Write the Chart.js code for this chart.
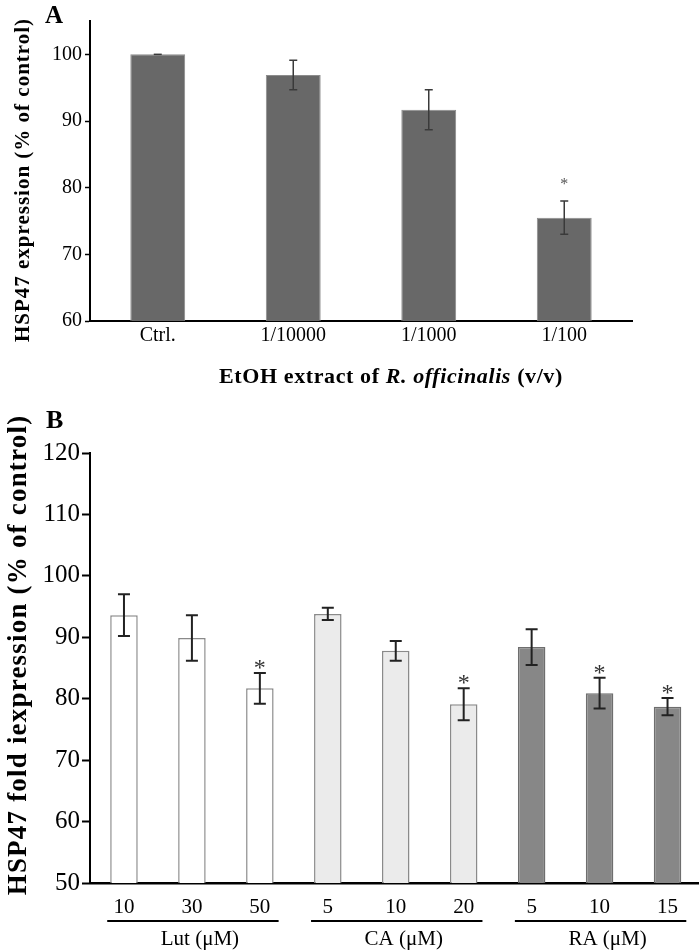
<!DOCTYPE html>
<html>
<head>
<meta charset="utf-8">
<script src="https://cdn.jsdelivr.net/npm/chart.js@4.4.1/dist/chart.umd.min.js"></script>
<style>
html,body{margin:0;padding:0;background:#fff;overflow:hidden;}
#wrap{position:relative;width:699px;height:952px;overflow:hidden;background:#fff;}
#cA{position:absolute;left:0;top:0;}
#cB{position:absolute;left:0;top:390px;}
</style>
</head>
<body>
<div id="wrap">
<canvas id="cA" width="699" height="390"></canvas>
<canvas id="cB" width="702" height="562"></canvas>
</div>
<script>
// ---------- Panel A data ----------
const categoriesA = ['Ctrl.', '1/10000', '1/1000', '1/100'];
const valuesA = [100, 96.9, 91.7, 75.5];
const errorsA = [0, 2.2, 3.0, 2.5];
const significantA = [false, false, false, true];
const yTicksA = [60, 70, 80, 90, 100];
const yTitleA = 'HSP47 expression (% of control)';
const xTitleA = [['EtOH extract of ', 'bold'], ['R. officinalis', 'italic bold'], [' (v/v)', 'bold']];

// ---------- Panel B data ----------
const categoriesB = ['10', '30', '50', '5', '10', '20', '5', '10', '15'];
const valuesB = [93.6, 89.9, 81.7, 93.8, 87.8, 79.1, 88.4, 80.9, 78.7];
const errorsB = [3.4, 3.7, 2.5, 1.0, 1.6, 2.6, 2.9, 2.5, 1.4];
const significantB = [false, false, true, false, false, true, false, true, true];
const groupOfB = [0, 0, 0, 1, 1, 1, 2, 2, 2];
const groupNamesB = ['Lut (\u03bcM)', 'CA (\u03bcM)', 'RA (\u03bcM)'];
const yTicksB = [50, 60, 70, 80, 90, 100, 110, 120];
const yTitleB = 'HSP47 fold iexpression (% of control)';

const SERIF = "'Liberation Serif', 'Times New Roman', serif";
const groupFill = ['#ffffff', '#ebebeb', '#878787'];
const groupBorder = ['#8a8a8a', '#8a8a8a', '#6e6e6e'];

function drawErrors(chart, values, errors, sig, o) {
  const ctx = chart.ctx;
  const meta = chart.getDatasetMeta(0);
  const ys = chart.scales.y;
  values.forEach((v, i) => {
    const x = meta.data[i].x;
    const yt = ys.getPixelForValue(v + errors[i]);
    const yb = ys.getPixelForValue(v - errors[i]);
    ctx.save();
    ctx.strokeStyle = o.color;
    ctx.lineWidth = o.width;
    ctx.beginPath();
    if (errors[i] > 0) {
      ctx.moveTo(x, yt); ctx.lineTo(x, yb);
      ctx.moveTo(x - o.cap, yb); ctx.lineTo(x + o.cap, yb);
    }
    ctx.moveTo(x - o.cap, yt); ctx.lineTo(x + o.cap, yt);
    ctx.stroke();
    if (sig[i]) {
      ctx.fillStyle = o.starColor;
      ctx.font = o.starFont;
      ctx.textAlign = 'center';
      ctx.textBaseline = 'alphabetic';
      ctx.fillText('*', x, yt + o.starShift);
    }
    ctx.restore();
  });
}

function drawRotated(ctx, text, x, y, font, spacing) {
  ctx.save();
  ctx.translate(x, y);
  ctx.rotate(-Math.PI / 2);
  ctx.font = font;
  if ('letterSpacing' in ctx) ctx.letterSpacing = spacing;
  ctx.fillStyle = '#000';
  ctx.textAlign = 'center';
  ctx.textBaseline = 'middle';
  ctx.fillText(text, 0, 0);
  ctx.restore();
}

// ---------- Chart A ----------
const pluginA = {
  id: 'extrasA',
  afterDatasetsDraw(chart) {
    drawErrors(chart, valuesA, errorsA, significantA,
      {color: '#3a3a3a', width: 1.5, cap: 4, starColor: '#555', starFont: '16px ' + SERIF, starShift: -12});
  },
  afterDraw(chart) {
    const ctx = chart.ctx;
    ctx.save();
    ctx.fillStyle = '#000';
    ctx.font = 'bold 25px ' + SERIF;
    ctx.textBaseline = 'alphabetic';
    ctx.textAlign = 'left';
    ctx.fillText('A', 45, 23);
    // x title (mixed style)
    if ('letterSpacing' in ctx) ctx.letterSpacing = '0.6px';
    let total = 0;
    xTitleA.forEach(([t, st]) => { ctx.font = st + ' 22px ' + SERIF; total += ctx.measureText(t).width; });
    let x = 391 - total / 2;
    xTitleA.forEach(([t, st]) => {
      ctx.font = st + ' 22px ' + SERIF;
      ctx.fillText(t, x, 383);
      x += ctx.measureText(t).width;
    });
    ctx.restore();
    drawRotated(ctx, yTitleA, 24, 180, 'bold 21px ' + SERIF, '1px');
  }
};

new Chart(document.getElementById('cA'), {
  type: 'bar',
  data: {
    labels: categoriesA,
    datasets: [{
      data: valuesA,
      backgroundColor: '#686868',
      borderColor: '#8c8c8c',
      borderWidth: 1,
      categoryPercentage: 1,
      barPercentage: 0.405
    }]
  },
  options: {
    responsive: false,
    animation: false,
    devicePixelRatio: 1,
    layout: {padding: {left: 0, right: 67, top: 21, bottom: 0}},
    plugins: {legend: {display: false}, tooltip: {enabled: false}},
    scales: {
      x: {
        grid: {display: true, drawOnChartArea: false, drawTicks: false},
        border: {display: true, color: '#000', width: 2},
        ticks: {color: '#000', font: {family: SERIF, size: 20}, padding: 3},
        afterFit(s) { s.height = 69; }
      },
      y: {
        min: 60, max: 105,
        afterBuildTicks(s) { s.ticks = yTicksA.map(v => ({value: v})); },
        grid: {display: true, drawOnChartArea: false, drawTicks: true, tickLength: 5, tickColor: '#000', tickWidth: 1.5},
        border: {display: true, color: '#000', width: 2},
        ticks: {color: '#000', font: {family: SERIF, size: 20}, padding: 3},
        afterFit(s) { s.width = 90; }
      }
    }
  },
  plugins: [pluginA]
});

// ---------- Chart B ----------
const pluginB = {
  id: 'extrasB',
  afterDatasetsDraw(chart) {
    drawErrors(chart, valuesB, errorsB, significantB,
      {color: '#222', width: 2, cap: 6, starColor: '#333', starFont: '24px ' + SERIF, starShift: 2});
  },
  afterDraw(chart) {
    const ctx = chart.ctx;
    const meta = chart.getDatasetMeta(0);
    ctx.save();
    ctx.fillStyle = '#000';
    ctx.font = 'bold 26px ' + SERIF;
    ctx.textAlign = 'left';
    ctx.textBaseline = 'alphabetic';
    ctx.fillText('B', 46, 38);
    // group lines and labels
    groupNamesB.forEach((name, g) => {
      const idx = groupOfB.map((gg, i) => gg === g ? i : -1).filter(i => i >= 0);
      const first = meta.data[idx[0]], last = meta.data[idx[idx.length - 1]];
      const x0 = first.x - first.width / 2 - 3;
      const x1 = last.x + last.width / 2 + 5;
      ctx.strokeStyle = '#000';
      ctx.lineWidth = 1.8;
      ctx.beginPath();
      ctx.moveTo(x0, 531); ctx.lineTo(x1, 531);
      ctx.stroke();
      ctx.font = '21px ' + SERIF;
      ctx.textAlign = 'center';
      ctx.textBaseline = 'middle';
      ctx.fillText(name, (x0 + x1) / 2 + 7, 549);
    });
    ctx.restore();
    drawRotated(ctx, yTitleB, 19, 265, 'bold 27px ' + SERIF, '1.2px');
  }
};

new Chart(document.getElementById('cB'), {
  type: 'bar',
  data: {
    labels: categoriesB,
    datasets: [{
      data: valuesB,
      backgroundColor: groupOfB.map(g => groupFill[g]),
      borderColor: groupOfB.map(g => groupBorder[g]),
      borderWidth: 1.5,
      categoryPercentage: 1,
      barPercentage: 0.405
    }]
  },
  options: {
    responsive: false,
    animation: false,
    devicePixelRatio: 1,
    layout: {padding: {left: 0, right: 0.5, top: 63, bottom: 0}},
    plugins: {legend: {display: false}, tooltip: {enabled: false}},
    scales: {
      x: {
        grid: {display: true, drawOnChartArea: false, drawTicks: false},
        border: {display: true, color: '#000', width: 2.5},
        ticks: {color: '#000', font: {family: SERIF, size: 21}, padding: 12},
        afterFit(s) { s.height = 69; }
      },
      y: {
        min: 50, max: 120,
        afterBuildTicks(s) { s.ticks = yTicksB.map(v => ({value: v})); },
        grid: {display: true, drawOnChartArea: false, drawTicks: true, tickLength: 8, tickColor: '#000', tickWidth: 2},
        border: {display: true, color: '#000', width: 2},
        ticks: {color: '#000', font: {family: SERIF, size: 25}, padding: 2},
        afterFit(s) { s.width = 90; }
      }
    }
  },
  plugins: [pluginB]
});
</script>
</body>
</html>
